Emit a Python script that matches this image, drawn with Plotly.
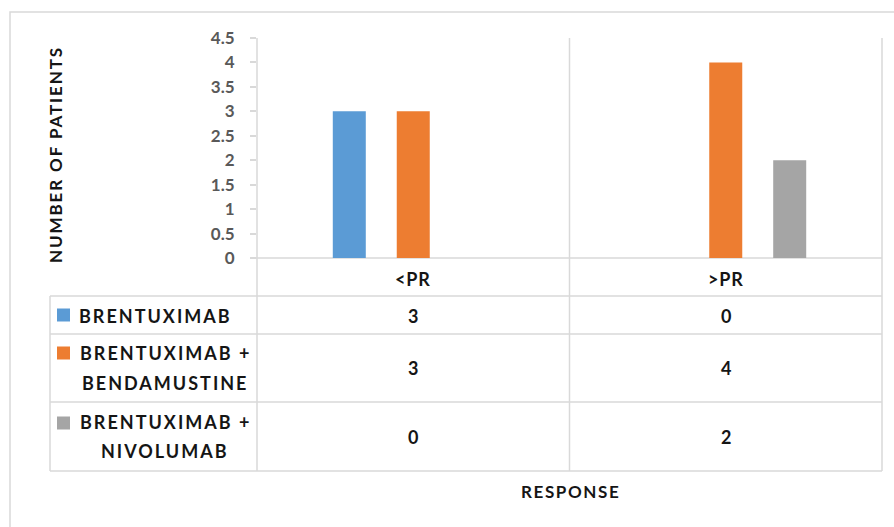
import plotly.graph_objects as go

# Response categories and patient counts per treatment
categories = ["<PR", ">PR"]
series_names = ["BRENTUXIMAB", "BRENTUXIMAB +<br>BENDAMUSTINE", "BRENTUXIMAB +<br>NIVOLUMAB"]
brentuximab = [3, 0]
brentuximab_bendamustine = [3, 4]
brentuximab_nivolumab = [0, 2]
series_values = [brentuximab, brentuximab_bendamustine, brentuximab_nivolumab]
colors = ["#5B9BD5", "#ED7D31", "#A5A5A5"]
y_ticks = [0, 0.5, 1, 1.5, 2, 2.5, 3, 3.5, 4, 4.5]

W, H = 894, 527
L, R, T, B = 257, 882, 38, 258  # plot area in pixels
GRID = "#D9D9D9"
FONT = "Lato"
TXT = "#151515"


def px(x):
    return (x - L) / (R - L)


def py(y):
    return (B - y) / (B - T)


def spaced(s, ls=2.0):
    return f'<span style="letter-spacing:{ls}px">{s}</span>'


fig = go.Figure()
for name, vals, col in zip(series_names, series_values, colors):
    fig.add_trace(go.Bar(x=categories, y=vals, name=name.replace("<br>", " "),
                         marker=dict(color=col, line=dict(width=0))))

shapes = []


def line(x0, y0, x1, y1):
    shapes.append(dict(type="line", xref="paper", yref="paper",
                       x0=px(x0), y0=py(y0), x1=px(x1), y1=py(y1),
                       line=dict(color=GRID, width=1.5), layer="below"))


# outer chart frame
shapes.append(dict(type="rect", xref="paper", yref="paper",
                   x0=px(10), y0=py(12), x1=px(900), y1=py(540),
                   line=dict(color=GRID, width=1.5), fillcolor="rgba(0,0,0,0)", layer="below"))

# data table grid
row_lines = [296, 334, 402, 471]
for yy in row_lines:
    line(50, yy, R, yy)
line(251, B, R, B)
line(50, 296, 50, 471)
for xx in [L, (L + R) / 2, R]:
    line(xx, T, xx, 471)

annotations = []


def note(**kw):
    kw.setdefault("showarrow", False)
    kw.setdefault("xanchor", "center")
    kw.setdefault("yanchor", "middle")
    annotations.append(kw)


# category headers
for c in categories:
    note(x=c, xref="x", y=py(279), yref="paper",
         text=f"<b>{spaced(c, 0.8)}</b>",
         font=dict(family=FONT, size=18, color=TXT))

value_y = [316, 368, 437]
label_line_y = [[316], [353, 383], [422, 451]]
swatch_y = [315, 353, 423]
for i, (name, vals, col) in enumerate(zip(series_names, series_values, colors)):
    shapes.append(dict(type="rect", xref="paper", yref="paper",
                       x0=px(57), x1=px(70), y0=py(swatch_y[i] - 6.5), y1=py(swatch_y[i] + 6.5),
                       fillcolor=col, line=dict(width=0)))
    parts = name.split("<br>")
    for part, ly in zip(parts, label_line_y[i]):
        if len(parts) == 1:
            pos = dict(x=px(77), xanchor="left")
        else:
            pos = dict(x=px(165), xanchor="center")
        note(**pos, xref="paper", y=py(ly), yref="paper",
             text=f"<b>{spaced(part, 2.0)}</b>",
             font=dict(family=FONT, size=18, color=TXT))
    for c, v in zip(categories, vals):
        note(x=c, xref="x", y=py(value_y[i]), yref="paper",
             text=f"<b>{v}</b>",
             font=dict(family=FONT, size=18, color=TXT))

# axis titles
note(x=px(55), xref="paper", y=py(155), yref="paper",
     text=f"<b>{spaced('NUMBER OF PATIENTS', 1.9)}</b>", textangle=-90,
     font=dict(family=FONT, size=17, color=TXT))
note(x=px(570), xref="paper", y=py(491), yref="paper",
     text=f"<b>{spaced('RESPONSE', 1.6)}</b>",
     font=dict(family=FONT, size=17, color=TXT))

fig.update_layout(
    width=W, height=H,
    margin=dict(l=L, r=W - R, t=T, b=H - B, pad=0),
    paper_bgcolor="white", plot_bgcolor="white",
    barmode="group", bargap=0.386, bargroupgap=0.484,
    showlegend=False,
    shapes=shapes, annotations=annotations,
    xaxis=dict(type="category", range=[-0.5, 1.5], showticklabels=False,
               showgrid=False, zeroline=False, showline=False, ticks=""),
    yaxis=dict(range=[0, 4.5], tickvals=y_ticks, showgrid=False, zeroline=False,
               showline=False, ticks="outside", ticklen=6, tickcolor=GRID, tickwidth=1.5,
               ticklabelstandoff=12,
               tickfont=dict(family=FONT, size=17, color="#595959", weight="bold")),
)

fig.write_html("out.html")
